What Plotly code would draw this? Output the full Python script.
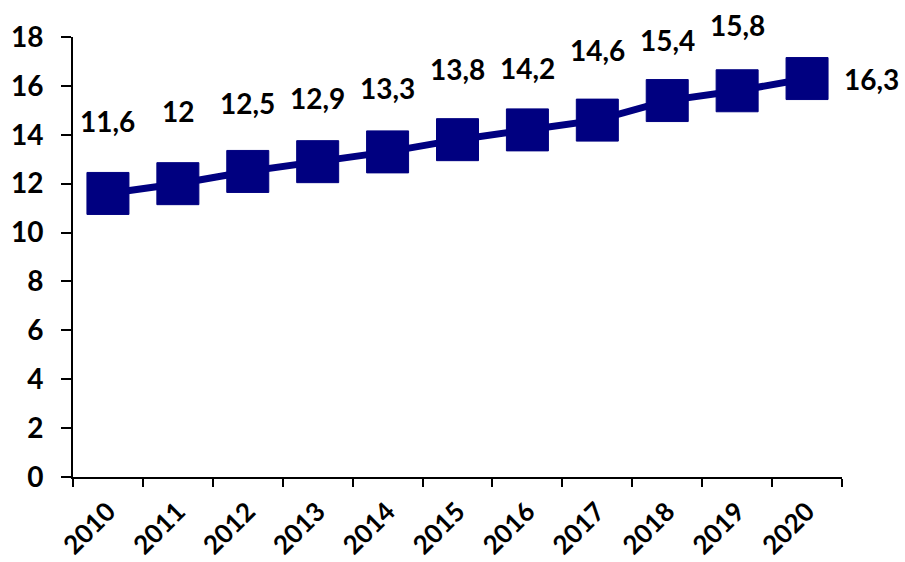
import plotly.graph_objects as go

years = ["2010", "2011", "2012", "2013", "2014", "2015", "2016", "2017", "2018", "2019", "2020"]
values = [11.6, 12, 12.5, 12.9, 13.3, 13.8, 14.2, 14.6, 15.4, 15.8, 16.3]
labels = ["11,6", "12", "12,5", "12,9", "13,3", "13,8", "14,2", "14,6", "15,4", "15,8", "16,3"]
y_ticks = [0, 2, 4, 6, 8, 10, 12, 14, 16, 18]

# label placement (pixel offsets from point), style only
label_yshift = [72, 73, 68, 64, 64, 71, 62, 70, 61, 66, 0]
label_xshift = [0, 0, 0, 0, 0, 0, 0, 0, 0, 0, 64]

navy = "#000080"
font_family = "Lato"

xpos = list(range(len(years)))

fig = go.Figure()
fig.add_trace(go.Scatter(
    x=xpos, y=values, mode="lines+markers",
    line=dict(color=navy, width=7),
    marker=dict(symbol="square", size=42, color=navy, line=dict(color=navy, width=1)),
    hoverinfo="skip", showlegend=False,
))

annotations = []
for x, y, t, dy, dx in zip(xpos, values, labels, label_yshift, label_xshift):
    annotations.append(dict(x=x, y=y, xref="x", yref="y", text=t, showarrow=False,
                            yshift=dy, xshift=dx,
                            font=dict(family=font_family, size=28, color="black", weight="bold")))

fig.update_layout(
    width=905, height=562,
    margin=dict(l=73, r=63, t=37, b=85),
    plot_bgcolor="white", paper_bgcolor="white",
    font=dict(family=font_family, color="black"),
    annotations=annotations,
)
fig.update_xaxes(
    type="linear", range=[-0.5, len(years) - 0.5], automargin=False,
    tickmode="array", tickvals=xpos, ticktext=years,
    showline=True, linecolor="black", linewidth=2,
    ticks="", tickangle=-45, showgrid=False, zeroline=False,
    ticklabelstandoff=7,
    minor=dict(tickmode="linear", tick0=-0.5, dtick=1, ticks="outside",
               ticklen=8, tickwidth=2, tickcolor="black", showgrid=False),
    tickfont=dict(family=font_family, size=26, color="black", weight="bold"),
)
fig.update_yaxes(
    range=[0, 18], tickvals=y_ticks, automargin=False,
    showline=True, linecolor="black", linewidth=2,
    ticks="outside", ticklen=10, tickwidth=2, tickcolor="black",
    showgrid=False, zeroline=False, ticklabelstandoff=12,
    tickfont=dict(family=font_family, size=28, color="black", weight="bold"),
)

fig.write_html("out.html")
